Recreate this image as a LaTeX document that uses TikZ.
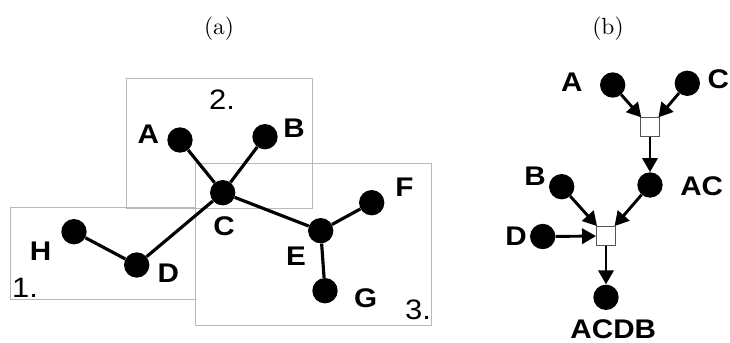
\documentclass[tikz,border=0pt]{standalone}
\usepackage{fontspec}
\usepackage{tikz}
\usetikzlibrary{arrows.meta}
\newfontfamily\lblfont[FakeStretch=1.1]{Liberation Sans}
\newfontfamily\capfont{lmroman10-regular}[Extension=.otf]
\definecolor{regiongray}{HTML}{B8B8B8}
\definecolor{sqgray}{HTML}{555555}

\begin{document}
\begin{tikzpicture}[x=0.03cm,y=-0.03cm,
  dot/.style={circle,fill=black,inner sep=0pt,minimum size=0.76cm},
  merge/.style={draw=sqgray,fill=white,line width=0.7pt,inner sep=0pt,minimum size=0.57cm},
  lbl/.style={font=\lblfont\bfseries\fontsize{23}{23}\selectfont},
  num/.style={font=\lblfont\fontsize{24}{24}\selectfont},
  subcap/.style={font=\capfont\fontsize{20}{20}\selectfont},
  edge/.style={line width=2.7pt},
  arr/.style={line width=2.5pt,-{Triangle[length=12pt,width=13pt]}},
  region/.style={draw=regiongray,line width=0.8pt}]
  \useasboundingbox (0,0) rectangle (730,343);

  % (a) partition of the tree
  \node[subcap] (ta) at (219,29) {(a)};
  \draw[region] (10.7,207) rectangle (195,299);
  \draw[region] (126.7,78.3) rectangle (312.3,208.7);
  \draw[region] (195.7,163.7) rectangle (431.7,325.7);
  \node[num] (r1) at (25,288) {1.};
  \node[num] (r2) at (222,100) {2.};
  \node[num] (r3) at (418,310) {3.};

  \node[dot] (a) at (180,140) {};
  \node[dot] (b) at (265,136.7) {};
  \node[dot] (c) at (222.7,192.7) {};
  \node[dot] (h) at (74,231.7) {};
  \node[dot] (d) at (136.7,265) {};
  \node[dot] (e) at (320.7,230.7) {};
  \node[dot] (f) at (371.7,202.7) {};
  \node[dot] (g) at (325,290.7) {};
  \draw[edge] (a) -- (c) -- (b);
  \draw[edge] (h) -- (d) -- (c) -- (e) -- (f);
  \draw[edge] (e) -- (g);

  \node[lbl] (la) at (148.3,134) {A};
  \node[lbl] (lb) at (294,128.3) {B};
  \node[lbl] (lc) at (224,226.7) {C};
  \node[lbl] (lh) at (40.7,251) {H};
  \node[lbl] (ld) at (168.3,273.3) {D};
  \node[lbl] (le) at (296,256.7) {E};
  \node[lbl] (lf) at (404.3,187.3) {F};
  \node[lbl] (lg) at (365.7,298.3) {G};

  % (b) merging order
  \node[subcap] (tb) at (608,29) {(b)};
  \node[dot] (pa) at (612.7,85) {};
  \node[dot] (pc) at (687.3,83.3) {};
  \node[merge] (m1) at (650,127.3) {};
  \node[dot] (pac) at (650,185) {};
  \node[dot] (pb) at (561.7,186.7) {};
  \node[dot] (pd) at (542.7,236.5) {};
  \node[merge] (m2) at (606,236) {};
  \node[dot] (pacdb) at (606,297.3) {};
  \draw[arr] (pa) -- (m1);
  \draw[arr] (pc) -- (m1);
  \draw[arr] (m1) -- (pac);
  \draw[arr] (pb) -- (m2);
  \draw[arr] (pac) -- (m2);
  \draw[arr] (pd) -- (m2);
  \draw[arr] (m2) -- (pacdb);

  \node[lbl] (lpa) at (571.7,82.7) {A};
  \node[lbl] (lpc) at (718.3,79.3) {C};
  \node[lbl] (lpac) at (701.7,186.7) {AC};
  \node[lbl] (lpb) at (535,176.7) {B};
  \node[lbl] (lpd) at (516,236.7) {D};
  \node[lbl] (lpacdb) at (613.3,329) {ACDB};
\end{tikzpicture}
\end{document}
